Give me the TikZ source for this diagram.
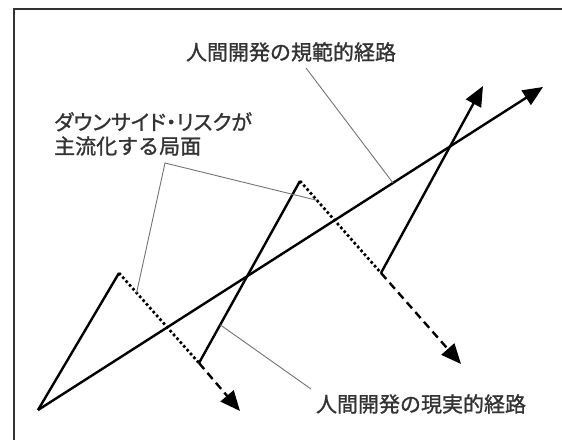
\documentclass[tikz,border=0pt]{standalone}
\usepackage{fontspec}
\newfontfamily\jp[FakeBold=1.2]{Noto Sans CJK JP}
\newfontfamily\jpp[FakeBold=1.2,RawFeature=+palt]{Noto Sans CJK JP}
\usetikzlibrary{arrows.meta}

\begin{document}
\begin{tikzpicture}[x=1pt,y=-1pt,
  main/.style={line width=2.4pt},
  tip/.style={-{Triangle[length=20pt,width=17pt]}},
  dots/.style={main,line width=2.7pt,dash pattern=on 2.6pt off 2.5pt},
  dashes/.style={main,dash pattern=on 8pt off 5pt},
  lead/.style={draw=black!55,line width=0.9pt},
  lab/.style={text=black!80,inner sep=0pt,font=\jp\fontsize{21}{24}\selectfont}]
 % \draw[help lines] (0,0) grid (562,439);
  \useasboundingbox (0,0) rectangle (562,439);
  \draw[line width=1.8pt,black!80] (14,450) |- (575,9);
  % points of the paths
  \coordinate (o)  at (38,410);
  \coordinate (p1) at (119,273);
  \coordinate (q1) at (199,363);
  \coordinate (e1) at (240,411);
  \coordinate (p2) at (300,181);
  \coordinate (q2) at (381,273);
  \coordinate (e2) at (461,364);
  \coordinate (e3) at (483,86);
  \coordinate (e0) at (543,87);
  % labels
  \node[lab] (norm) at (291,52) {人間開発の規範的経路};
  \node[lab,align=left,anchor=north west] (down) at (54,112)
    {{\jpp ダウンサイド・リスクが}\\主流化する局面};
  \node[lab] (real) at (421,404) {人間開発の現実的経路};
  \coordinate (k)  at (165,163);
  \coordinate (a1) at (306,68);
  \coordinate (a2) at (311,389);
  % paths
  \draw[main,tip] (o) -- (e0);
  \draw[main] (o) -- (p1);
  \draw[dots] (p1) -- (q1);
  \draw[dashes,tip] (q1) -- (e1);
  \draw[main] (q1) -- (p2);
  \draw[dots] (p2) -- (q2);
  \draw[dashes,tip] (q2) -- (e2);
  \draw[main,tip] (q2) -- (e3);
  % leaders
  \path (o) -- (e0) coordinate[pos=.703] (m0)
        (p1) -- (q1) coordinate[pos=.22] (m1)
        (p2) -- (q2) coordinate[pos=.21] (m2)
        (q1) -- (p2) coordinate[pos=.21] (m3);
  \draw[lead] (a1) -- (m0);
  \draw[lead] (m1) -- (k) -- (m2);
  \draw[lead] (m3) -- (a2);
\end{tikzpicture}
\end{document}
